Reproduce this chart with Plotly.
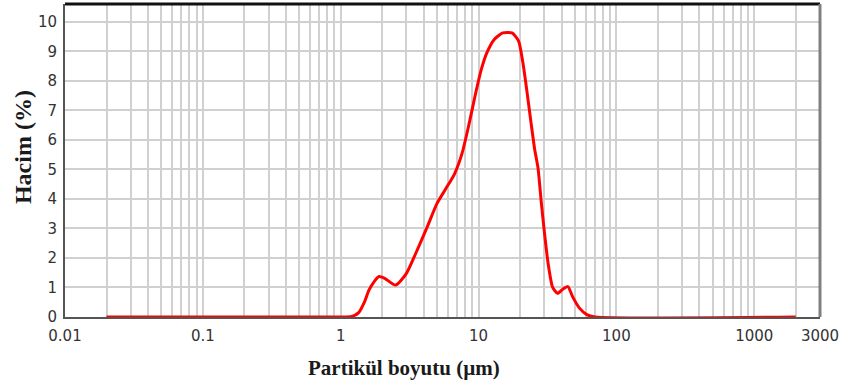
import numpy as np
import plotly.graph_objects as go

# Particle size distribution (volume %)
size_um = [0.02, 1.0, 1.2, 1.35, 1.5, 1.6, 1.75, 1.9, 2.1, 2.5, 3.0, 3.5, 4.2, 5.0,
           5.8, 6.7, 7.6, 8.5, 9.5, 10.5, 11.5, 13.0, 15.0, 17.5, 19.5, 21.0, 22.5,
           24.0, 25.5, 27.0, 28.5, 30.0, 32.0, 34.5, 37.5, 41.0, 44.5, 48.0, 54.0,
           61.0, 70.0, 2000.0]
volume_pct = [0.0, 0.0, 0.02, 0.15, 0.55, 0.9, 1.2, 1.37, 1.3, 1.08, 1.48, 2.15, 3.0, 3.85,
              4.35, 4.85, 5.55, 6.5, 7.55, 8.4, 8.95, 9.4, 9.62, 9.62, 9.35, 8.6, 7.6,
              6.6, 5.7, 5.05, 3.9, 2.9, 1.8, 1.0, 0.8, 0.95, 1.03, 0.7, 0.3,
              0.08, 0.0, 0.0]

tick_vals = [0.01, 0.1, 1, 10, 100, 1000, 3000]
tick_text = ["0.01", "0.1", "1", "10", "100", "1000", "3000"]
y_ticks = list(range(0, 11))

# minor grid: 2..9 within each decade, up to 2000
minor_vals = [m * 10.0 ** e for e in range(-2, 4) for m in range(2, 10) if m * 10.0 ** e <= 2000]

grid_color = "#d0d0d0"
tick_font = dict(family="DejaVu Sans", size=15, color="#333333")

fig = go.Figure()
fig.add_trace(go.Scatter(
    x=size_um, y=volume_pct, mode="lines",
    line=dict(color="#ff0000", width=3, shape="spline", smoothing=0.6),
    cliponaxis=False, showlegend=False,
))

fig.update_layout(
    width=846, height=385,
    margin=dict(l=65, r=26, t=4, b=68),
    paper_bgcolor="white", plot_bgcolor="white",
    xaxis=dict(
        type="log", range=[np.log10(0.01), np.log10(3000)],
        tickvals=tick_vals, ticktext=tick_text, tickfont=tick_font,
        showgrid=True, gridcolor=grid_color, gridwidth=1.5,
        minor=dict(tickvals=minor_vals, showgrid=True, gridcolor=grid_color, gridwidth=1.5, ticks=""),
        showline=True, linecolor="#555555", linewidth=2,
        ticks="", ticklabelstandoff=4, zeroline=False,
    ),
    yaxis=dict(
        range=[0, 10.6], tickvals=y_ticks, tickfont=tick_font,
        showgrid=True, gridcolor=grid_color, gridwidth=1.5,
        showline=True, linecolor="#555555", linewidth=2,
        ticks="", ticklabelstandoff=3, zeroline=False,
    ),
    shapes=[
        dict(type="line", xref="x domain", yref="y domain", x0=0, x1=1, y0=1, y1=1,
             line=dict(color="#111111", width=3)),
        dict(type="line", xref="x domain", yref="y domain", x0=1, x1=1, y0=0, y1=1,
             line=dict(color="#808080", width=3)),
    ],
    annotations=[
        dict(text="Partikül boyutu (µm)", xref="paper", yref="paper",
             x=0.449, y=-0.163, xanchor="center", yanchor="middle", showarrow=False,
             font=dict(family="Liberation Serif", size=21, color="#1a1a1a", weight="bold")),
        dict(text="Hacim (%)", xref="paper", yref="paper", textangle=-90,
             x=-0.0556, y=0.543, xanchor="center", yanchor="middle", showarrow=False,
             font=dict(family="Liberation Serif", size=24, color="#1a1a1a", weight="bold")),
    ],
)

fig.write_html("out.html")
